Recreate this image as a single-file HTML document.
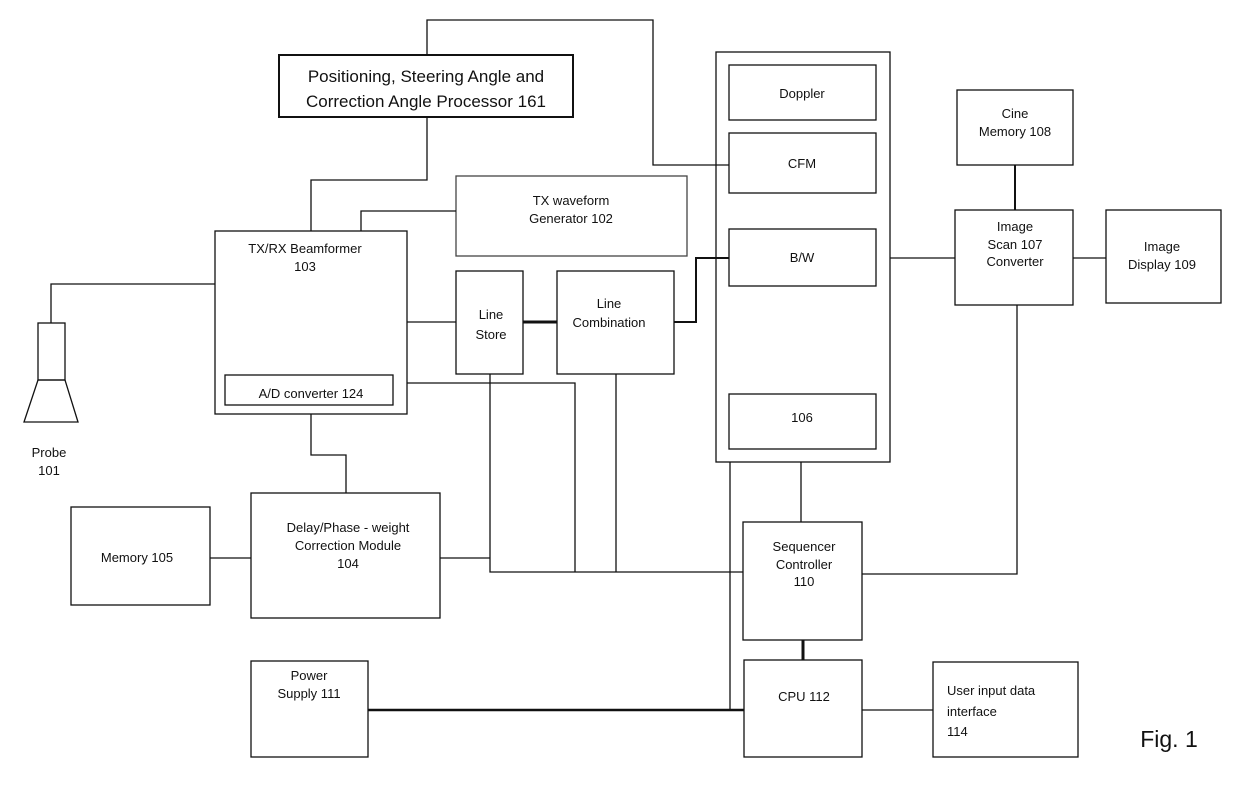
<!DOCTYPE html>
<html><head><meta charset="utf-8"><style>
body{margin:0;background:#fff}
svg{display:block}
text{font-family:"Liberation Sans",sans-serif;font-size:13px;fill:#111;text-anchor:middle}
</style></head><body>
<svg width="1240" height="793" viewBox="0 0 1240 793">
<g fill="none" stroke="#111" stroke-width="1.3">
<rect x="279" y="55" width="294" height="62" stroke-width="2"/>
<rect x="456" y="176" width="231" height="80" stroke="#444"/>
<rect x="215" y="231" width="192" height="183"/>
<rect x="225" y="375" width="168" height="30"/>
<rect x="38" y="323" width="27" height="57"/>
<path d="M38 380 L65 380 L78 422 L24 422 Z"/>
<rect x="456" y="271" width="67" height="103"/>
<rect x="557" y="271" width="117" height="103"/>
<rect x="716" y="52" width="174" height="410"/>
<rect x="729" y="65" width="147" height="55"/>
<rect x="729" y="133" width="147" height="60"/>
<rect x="729" y="229" width="147" height="57"/>
<rect x="729" y="394" width="147" height="55"/>
<rect x="957" y="90" width="116" height="75"/>
<rect x="955" y="210" width="118" height="95"/>
<rect x="1106" y="210" width="115" height="93"/>
<rect x="743" y="522" width="119" height="118"/>
<rect x="744" y="660" width="118" height="97"/>
<rect x="933" y="662" width="145" height="95"/>
<rect x="251" y="661" width="117" height="96"/>
<rect x="71" y="507" width="139" height="98"/>
<rect x="251" y="493" width="189" height="125"/>
<path d="M427 55 V20 H653 V165 H729"/>
<path d="M427 117 V180 H311 V231"/>
<path d="M456 211 H361 V231"/>
<path d="M215 284 H51 V323"/>
<path d="M407 322 H456"/>
<path d="M523 322 H557" stroke-width="3"/>
<path d="M674 322 H696 V258 H729" stroke-width="2"/>
<path d="M890 258 H955"/>
<path d="M1015 165 V210" stroke-width="2"/>
<path d="M1073 258 H1106"/>
<path d="M1017 305 V574 H862"/>
<path d="M801 462 V522"/>
<path d="M803 640 V660" stroke-width="3"/>
<path d="M862 710 H933"/>
<path d="M730 462 V710"/>
<path d="M368 710 H744" stroke-width="2.5"/>
<path d="M210 558 H251"/>
<path d="M311 414 V455 H346 V493"/>
<path d="M440 558 H490"/>
<path d="M490 374 V572 H743"/>
<path d="M407 383 H575 V572"/>
<path d="M616 374 V572"/>
</g>
<text x="426" y="82" style="font-size:17px">Positioning, Steering Angle and</text>
<text x="426" y="107" style="font-size:17px">Correction  Angle Processor 161</text>
<text x="571" y="205">TX waveform</text>
<text x="571" y="223">Generator 102</text>
<text x="305" y="253">TX/RX Beamformer</text>
<text x="305" y="271">103</text>
<text x="311" y="398">A/D converter 124</text>
<text x="49" y="457">Probe</text>
<text x="49" y="475">101</text>
<text x="491" y="319">Line</text>
<text x="491" y="339">Store</text>
<text x="609" y="308">Line</text>
<text x="609" y="327">Combination</text>
<text x="802" y="98">Doppler</text>
<text x="802" y="168">CFM</text>
<text x="802" y="262">B/W</text>
<text x="802" y="422">106</text>
<text x="1015" y="118">Cine</text>
<text x="1015" y="136">Memory  108</text>
<text x="1015" y="231">Image</text>
<text x="1015" y="249">Scan 107</text>
<text x="1015" y="266">Converter</text>
<text x="1162" y="251">Image</text>
<text x="1162" y="269">Display 109</text>
<text x="804" y="551">Sequencer</text>
<text x="804" y="569">Controller</text>
<text x="804" y="586">110</text>
<text x="804" y="701">CPU 112</text>
<text x="947" y="695" style="text-anchor:start">User input data</text>
<text x="947" y="716" style="text-anchor:start">interface</text>
<text x="947" y="736" style="text-anchor:start">114</text>
<text x="309" y="680">Power</text>
<text x="309" y="698">Supply 111</text>
<text x="137" y="562">Memory 105</text>
<text x="348" y="532">Delay/Phase - weight</text>
<text x="348" y="550">Correction Module</text>
<text x="348" y="568">104</text>
<text x="1169" y="747" style="font-size:23px">Fig. 1</text>
</svg>
</body></html>
